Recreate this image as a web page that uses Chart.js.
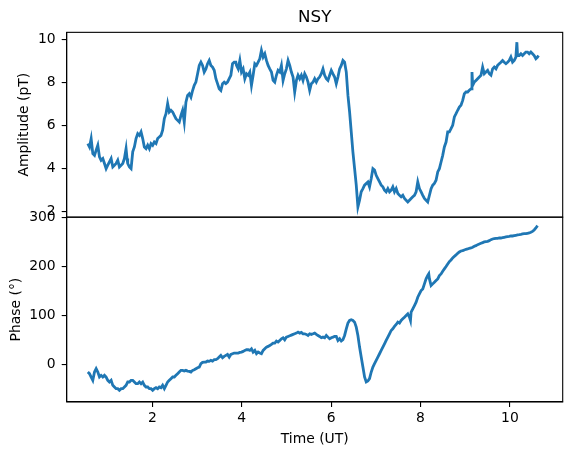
<!DOCTYPE html>
<html>
<head>
<meta charset="utf-8">
<script src="https://cdn.jsdelivr.net/npm/chart.js@4.4.1/dist/chart.umd.min.js"></script>
<style>
html,body{margin:0;padding:0;background:#fff;}
canvas{display:block;}
</style>
</head>
<body>
<canvas id="c" width="571" height="455"></canvas>
<script>
const ampTime = [
0.557,0.595,0.632,0.669,0.707,0.744,0.781,0.818,0.855,0.893,0.930,0.967,1.004,1.041,1.079,1.116,1.153,1.190,1.227,1.264,1.302,1.339,1.376,1.413,1.435,1.450,1.488,1.525,1.562,1.599,1.636,1.674,1.711,1.748,1.785,1.822,1.860,1.897,1.934,1.971,2.008,2.045,2.083,2.120,2.157,2.194,2.231,2.269,2.306,2.343,2.380,2.417,2.455,2.492,2.529,2.566,2.603,2.641,2.678,2.715,2.752,2.789,2.827,2.864,2.901,2.938,2.975,3.013,3.050,3.087,3.124,3.161,3.199,3.236,3.273,3.310,3.347,3.385,3.422,3.459,3.496,3.533,3.571,3.608,3.645,3.682,3.720,3.757,3.794,3.831,3.868,
3.883,3.921,3.958,3.995,4.032,4.069,4.107,4.144,4.181,4.218,4.255,4.293,4.330,4.367,4.404,4.441,4.479,4.516,4.553,4.590,4.627,4.665,4.702,4.739,4.776,4.813,4.851,4.888,4.925,4.962,4.999,5.037,5.074,5.111,5.148,5.185,5.223,5.260,5.297,5.334,5.371,5.409,5.446,5.483,5.520,5.557,5.595,5.632,5.669,5.706,5.743,5.781,5.818,5.855,5.892,5.929,5.967,6.004,6.041,6.078,6.115,6.153,6.190,6.227,6.264,6.301,6.339,6.376,6.413,6.450,6.487,6.525,6.562,6.599,6.636,6.673,6.711,6.748,6.785,6.822,6.859,6.897,6.934,6.971,7.008,7.045,7.083,7.120,7.157,7.194,7.231,7.269,7.306,7.343,7.380,7.417,7.455,7.492,
7.529,7.566,7.603,7.641,7.678,7.715,7.752,7.789,7.827,7.864,7.901,7.938,7.975,8.013,8.050,8.087,8.124,8.161,8.199,8.236,8.273,8.310,8.347,8.385,8.422,8.459,8.496,8.533,8.571,8.608,8.645,8.682,8.719,8.757,8.794,8.831,8.868,8.905,8.943,8.980,9.017,9.054,9.091,9.129,9.151,9.166,9.203,9.240,9.277,9.315,9.352,9.389,9.426,9.463,9.501,9.538,9.575,9.612,9.649,9.687,9.724,9.761,9.798,9.835,9.873,9.910,9.947,9.984,10.021,10.059,10.096,10.133,10.155,10.170,10.207,10.245,10.282,10.319,10.356,10.393,10.431,10.468,10.505,10.542,10.580,10.617,10.639
];
const ampValues = [
5.15,4.99,5.38,4.68,4.60,4.84,5.07,4.53,4.37,4.45,4.22,3.98,4.14,4.29,4.45,4.06,4.14,4.22,4.37,4.06,4.14,4.22,4.45,4.91,4.45,4.22,4.06,3.98,4.76,4.99,5.38,5.61,5.53,5.69,5.38,4.99,4.91,5.07,4.91,5.15,5.07,5.22,5.15,5.38,5.46,5.53,5.77,6.31,6.54,7.01,6.62,6.70,6.62,6.46,6.31,6.23,6.15,6.46,6.70,6.15,7.08,7.39,7.47,7.31,7.62,7.86,8.01,8.40,8.79,8.94,8.79,8.48,8.63,8.87,9.02,8.79,8.71,8.56,8.17,7.94,7.70,7.62,7.94,8.01,7.94,8.01,8.17,8.33,8.87,8.94,8.94,
8.79,8.63,9.02,8.48,8.63,8.17,8.40,8.33,8.48,7.86,8.33,8.87,8.79,8.94,9.10,9.49,9.18,9.33,9.02,8.79,8.63,8.48,8.09,8.01,8.33,8.56,8.48,8.79,8.09,8.40,8.63,9.02,8.79,8.48,8.25,7.55,8.09,8.33,8.17,8.33,8.09,8.40,8.25,8.01,7.63,7.94,8.01,8.17,8.01,8.17,8.25,8.40,8.63,8.33,8.17,8.09,8.33,8.56,8.40,8.25,7.94,8.25,8.63,8.79,9.02,8.94,8.48,7.39,6.62,5.69,4.76,3.98,3.21,2.20,2.51,2.90,3.05,3.21,3.29,3.36,3.13,3.52,3.98,3.91,3.67,3.52,3.36,3.21,3.13,2.98,2.90,3.05,2.90,2.98,3.13,2.90,3.05,2.82,
2.74,2.67,2.74,2.59,2.51,2.43,2.51,2.59,2.67,2.74,2.90,3.36,3.05,2.90,2.74,2.59,2.51,2.43,2.74,3.05,3.21,3.29,3.44,3.83,3.98,4.29,4.60,4.99,5.22,5.69,5.69,5.84,6.00,6.39,6.54,6.70,6.85,6.93,7.16,7.47,7.55,7.55,7.63,7.70,8.48,7.86,8.01,8.09,8.17,8.25,8.33,8.71,8.40,8.48,8.56,8.40,8.33,8.63,8.71,8.63,8.79,8.87,8.94,9.02,8.94,8.87,8.94,9.02,9.18,8.94,9.02,9.18,9.87,9.25,9.25,9.33,9.25,9.33,9.41,9.41,9.33,9.41,9.33,9.25,9.10,9.18,9.25
];
const phaseTime = [
0.557,0.595,0.632,0.669,0.707,0.744,0.781,0.818,0.855,0.893,0.930,0.967,1.004,1.041,1.079,1.116,1.153,1.190,1.227,1.264,1.302,1.339,1.376,1.413,1.450,1.488,1.525,1.562,1.599,1.636,1.674,1.711,1.748,1.785,1.822,1.860,1.897,1.934,1.971,2.008,2.045,2.083,2.120,2.157,2.194,2.231,2.269,2.306,2.343,2.380,2.417,2.455,2.492,2.529,2.566,2.603,2.641,2.678,2.715,2.752,2.789,2.827,2.864,2.901,2.938,2.975,3.013,3.050,3.087,3.124,3.161,3.199,3.236,3.273,3.310,3.347,3.385,3.422,3.459,3.496,3.533,3.571,3.608,3.645,3.682,3.720,3.757,3.794,3.831,3.868,
3.883,3.921,3.958,3.995,4.032,4.069,4.107,4.144,4.181,4.218,4.255,4.293,4.330,4.367,4.404,4.441,4.479,4.516,4.553,4.590,4.627,4.665,4.702,4.739,4.776,4.813,4.851,4.888,4.925,4.962,4.999,5.037,5.074,5.111,5.148,5.185,5.223,5.260,5.297,5.334,5.371,5.409,5.446,5.483,5.520,5.557,5.595,5.632,5.669,5.706,5.743,5.781,5.818,5.855,5.892,5.929,5.967,6.004,6.041,6.078,6.115,6.153,6.190,6.227,6.264,6.301,6.339,6.376,6.413,6.450,6.487,6.525,6.562,6.599,6.636,6.673,6.711,6.748,6.785,6.822,6.859,6.897,6.934,6.971,7.008,7.045,7.083,7.120,7.157,7.194,7.231,7.269,7.306,7.343,7.380,7.417,7.455,7.492,
7.529,7.566,7.603,7.641,7.678,7.715,7.752,7.775,7.789,7.827,7.864,7.901,7.938,7.975,8.013,8.050,8.087,8.124,8.161,8.184,8.199,8.236,8.273,8.310,8.347,8.385,8.422,8.459,8.496,8.533,8.571,8.608,8.645,8.682,8.719,8.757,8.794,8.831,8.868,8.905,8.943,8.980,9.017,9.054,9.091,9.129,9.166,9.203,9.240,9.277,9.315,9.352,9.389,9.426,9.463,9.501,9.538,9.575,9.612,9.649,9.687,9.724,9.761,9.798,9.835,9.873,9.910,9.947,9.984,10.021,10.059,10.096,10.133,10.170,10.207,10.245,10.282,10.319,10.356,10.393,10.431,10.468,10.505,10.542,10.580,10.617
];
const phaseValues = [
-15.7,-19.1,-25.9,-32.7,-15.7,-8.9,-15.7,-25.9,-22.5,-25.9,-22.5,-25.9,-32.7,-36.1,-32.7,-42.9,-46.3,-49.7,-49.7,-53.1,-49.7,-49.7,-46.3,-42.9,-36.1,-36.1,-32.7,-32.7,-36.1,-39.5,-39.5,-36.1,-39.5,-36.1,-42.9,-46.3,-46.3,-49.7,-49.7,-53.1,-49.7,-47.7,-49.7,-46.3,-47.7,-42.9,-49.7,-42.9,-36.1,-32.7,-29.3,-25.9,-25.9,-22.5,-19.1,-15.7,-12.3,-12.3,-13.7,-12.3,-13.7,-14.4,-15.7,-12.3,-11.0,-8.9,-6.9,-5.5,1.3,4.0,4.7,4.7,6.7,6.1,8.1,6.7,9.5,9.5,11.5,14.9,18.3,13.5,16.3,18.3,20.3,14.9,20.3,21.7,23.1,23.1,
23.1,23.1,24.4,25.1,26.5,28.5,29.9,29.9,28.5,31.9,25.1,28.5,21.7,25.1,23.1,21.7,28.5,31.9,35.3,36.7,38.7,40.7,43.5,43.5,47.6,45.5,48.9,52.3,54.4,50.3,55.7,57.1,58.4,59.8,61.2,62.5,63.9,65.9,63.9,65.2,62.5,62.5,61.2,59.1,62.5,61.2,62.5,63.9,61.2,59.1,57.1,54.4,55.7,54.4,59.1,55.7,52.3,54.4,55.7,57.1,57.1,48.9,52.3,47.6,50.3,59.1,72.7,84.3,89.7,91.1,89.7,86.3,76.1,59.1,35.3,14.9,-5.5,-25.9,-36.1,-34.1,-29.3,-15.7,-5.5,1.3,8.1,14.9,21.7,28.5,35.3,42.1,48.9,55.7,62.5,69.3,72.7,77.5,81.6,86.3,
84.3,89.7,93.1,96.5,99.9,103.3,96.5,89.7,106.7,113.5,120.3,127.1,137.3,144.1,150.9,154.3,164.6,174.8,181.6,185.0,174.8,161.2,164.6,168.0,171.4,174.8,181.6,185.0,190.4,195.2,200.0,205.4,210.1,213.5,217.6,221.0,223.7,227.1,229.9,231.9,232.6,234.0,235.3,236.0,237.3,238.0,239.4,241.4,242.8,244.8,246.2,247.6,248.9,250.3,251.0,251.6,253.0,255.0,256.4,257.1,257.7,257.7,258.4,258.4,259.1,259.8,260.5,261.2,261.8,262.5,262.5,263.2,263.9,264.6,265.2,265.9,266.7,267.3,267.3,268.0,268.7,270.0,272.0,274.8,278.9,283.7
];
const timeTicks = [2, 4, 6, 8, 10];
const ampTicks = [2, 4, 6, 8, 10];
const phaseTicks = [0, 100, 200, 300];

const FONT = {family: 'DejaVu Sans', size: 13.9, weight: 'normal'};
const BLUE = '#1f77b4';

function pts(ts, vs) { return ts.map((t, i) => ({x: t, y: vs[i]})); }
function setTicks(arr) { return s => { s.ticks = arr.map(v => ({value: v})); }; }

const spines = {
  id: 'spines',
  afterDraw(chart) {
    const ctx = chart.ctx, a = chart.chartArea;
    ctx.save();
    ctx.strokeStyle = '#000';
    ctx.lineWidth = 1.1;
    ['yAmp', 'yPh'].forEach(id => {
      const s = chart.scales[id];
      ctx.strokeRect(a.left, s.top, a.right - a.left, s.bottom - s.top);
    });
    ctx.restore();
  }
};

const axisCommon = {
  grid: {drawOnChartArea: false, drawTicks: true, tickLength: 5, color: '#000', lineWidth: 1.1},
  border: {display: true, color: '#000', width: 1.1}
};

new Chart(document.getElementById('c'), {
  type: 'line',
  data: {
    datasets: [
      {label: 'Amplitude', data: pts(ampTime, ampValues), yAxisID: 'yAmp',
       borderColor: BLUE, borderWidth: 2.8, pointRadius: 0, tension: 0, fill: false},
      {label: 'Phase', data: pts(phaseTime, phaseValues), yAxisID: 'yPh',
       borderColor: BLUE, borderWidth: 2.8, pointRadius: 0, tension: 0, fill: false}
    ]
  },
  options: {
    responsive: false,
    animation: false,
    devicePixelRatio: 1,
    layout: {padding: {left: 0, right: 8.3, top: 0, bottom: 0}},
    plugins: {
      legend: {display: false},
      tooltip: {enabled: false},
      title: {display: true, text: 'NSY', fullSize: false, color: '#000',
              font: {family: 'DejaVu Sans', size: 16.7, weight: 'normal'},
              padding: {top: 7.5, bottom: 4.8}}
    },
    scales: {
      x: Object.assign({}, axisCommon, {
        type: 'linear', position: 'bottom', min: 0.085, max: 11.18,
        afterBuildTicks: setTicks(timeTicks),
        afterFit: s => { s.height = 53; },
        ticks: {color: '#000', font: FONT, padding: 3.5, maxRotation: 0, autoSkip: false},
        title: {display: true, text: 'Time (UT)', color: '#000', font: FONT, padding: {top: 0, bottom: 7.4}}
      }),
      yPh: Object.assign({}, axisCommon, {
        type: 'linear', position: 'left', stack: 'panels', stackWeight: 1,
        min: -77, max: 301,
        afterBuildTicks: setTicks(phaseTicks),
        afterFit: s => { s.width = 66.7; },
        ticks: {color: '#000', font: FONT, padding: 6, autoSkip: false},
        title: {display: true, text: 'Phase (°)', color: '#000', font: FONT, padding: {top: 8, bottom: 0}}
      }),
      yAmp: Object.assign({}, axisCommon, {
        type: 'linear', position: 'left', stack: 'panels', stackWeight: 1,
        min: 1.72, max: 10.33,
        afterBuildTicks: setTicks(ampTicks),
        afterFit: s => { s.width = 66.7; },
        ticks: {color: '#000', font: FONT, padding: 6, autoSkip: false},
        title: {display: true, text: 'Amplitude (pT)', color: '#000', font: FONT, padding: {top: 16.2, bottom: 0}}
      })
    }
  },
  plugins: [spines]
});
</script>
</body>
</html>
